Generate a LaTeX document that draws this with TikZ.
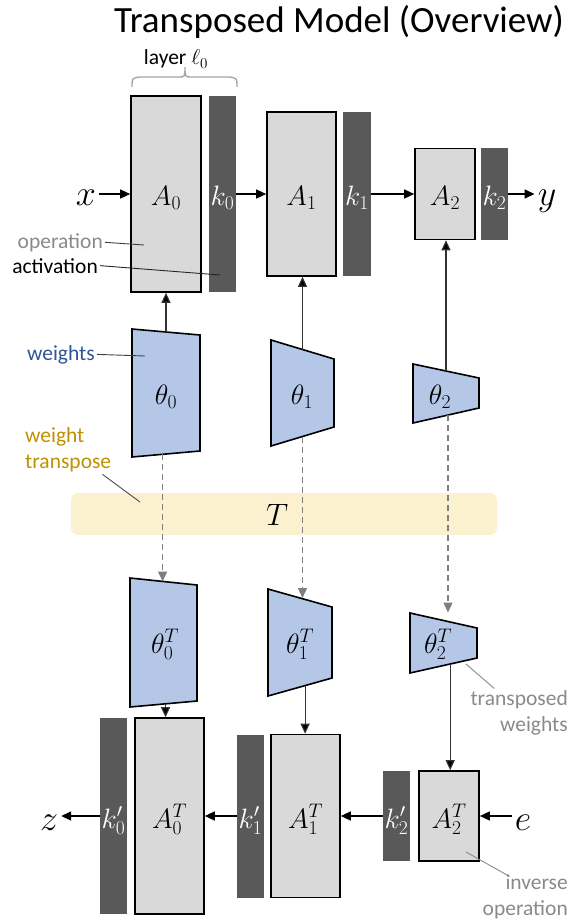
\RequirePackage{fix-cm}
\documentclass[tikz,border=0pt]{standalone}
\usepackage[no-math]{fontspec}
\setmainfont{Carlito}
\usetikzlibrary{arrows.meta,calc}

\definecolor{opfill}{HTML}{D9D9D9}
\definecolor{actfill}{HTML}{595959}
\definecolor{wfill}{HTML}{B4C7E7}
\definecolor{tfill}{HTML}{FCF1CF}
\definecolor{wblue}{HTML}{2F5597}
\definecolor{tgold}{HTML}{BF9000}
\definecolor{notegray}{HTML}{8A8A8A}
\definecolor{dashgray}{HTML}{7F7F7F}
\definecolor{bracegray}{HTML}{A6A6A6}

\newcommand\sizept[1]{\fontsize{#1}{#1}\selectfont}

\tikzset{
  opbox/.style={draw=black, fill=opfill, line width=1.6pt, inner sep=0pt,
    text height=22pt, text depth=0pt, font=\sizept{28}},
  actbox/.style={fill=actfill, inner sep=0pt, text height=22pt, text depth=0pt,
    text=white, font=\sizept{28}},
  wshape/.style={draw=black, fill=wfill, line width=1.6pt, line join=miter},
  wlab/.style={inner sep=0pt, anchor=base, font=\sizept{28}},
  io/.style={inner sep=3pt, anchor=base, font=\sizept{36}},
  arr/.style={line width=1.4pt, -{Triangle[length=10pt,width=9pt]}},
  varr/.style={line width=1.1pt, draw=black!80, -{Triangle[length=10pt,width=9pt,fill=black]}},
  darr/.style={line width=1.4pt, draw=dashgray, dash pattern=on 6pt off 4pt,
    -{Triangle[length=10pt,width=9pt]}},
  note/.style={inner sep=2pt, font=\fontsize{21.5}{26}\selectfont},
  leader/.style={line width=0.9pt},
}

\begin{document}
\begin{tikzpicture}[x=1pt,y=-1pt]
\useasboundingbox (0,0) rectangle (572,920);

% title and layer brace
\node[inner sep=0pt, anchor=base, font=\sizept{37}] (title) at (339,33) {Transposed Model (Overview)};
\node[note, anchor=base] (layer) at (176,65) {layer $\ell_0$};
\draw[bracegray, line width=1.4pt]
  (132,87) .. controls (132,78) .. (140,77) -- (178,77)
  .. controls (185,77) .. (185,67) .. controls (185,77) .. (192,77)
  -- (229,77) .. controls (237,78) .. (237,87);

% transpose band
\node[fill=tfill, rounded corners=7pt, minimum width=426pt, minimum height=42pt, inner sep=0pt] (band) at (284,514) {};
\node[wlab, font=\sizept{31}] (Tlab) at (277,525) {$T$};

% forward layers
\node[opbox, minimum width=70pt, minimum height=196pt] (A0) at (166,194) {$A_0$};
\node[actbox, minimum width=27pt, minimum height=196pt] (k0) at (222.5,194) {$k_0$};
\node[opbox, minimum width=69pt, minimum height=164pt] (A1) at (301.5,194) {$A_1$};
\node[actbox, minimum width=28pt, minimum height=164pt] (k1) at (357,194) {$k_1$};
\node[opbox, minimum width=60pt, minimum height=91pt] (A2) at (445,194) {$A_2$};
\node[actbox, minimum width=27pt, minimum height=91pt] (k2) at (494.5,194) {$k_2$};

% transposed layers
\node[actbox, text height=24pt, minimum width=27pt, minimum height=196pt] (k0p) at (113.5,816) {$k'_0$};
\node[opbox, text height=24pt, minimum width=69pt, minimum height=196pt] (A0T) at (169.5,816) {$A_0^T$};
\node[actbox, text height=24pt, minimum width=27pt, minimum height=163pt] (k1p) at (250.5,816) {$k'_1$};
\node[opbox, text height=24pt, minimum width=69pt, minimum height=163pt] (A1T) at (305.5,816) {$A_1^T$};
\node[actbox, text height=24pt, minimum width=27pt, minimum height=90pt] (k2p) at (396.5,816) {$k'_2$};
\node[opbox, text height=24pt, minimum width=60pt, minimum height=90pt] (A2T) at (449,816) {$A_2^T$};

% weights
\draw[wshape] (132,329) coordinate (t0a) -- (200,335) coordinate (t0b)
  -- (200,451) coordinate (t0c) -- (132,457) coordinate (t0d) -- cycle;
\draw[wshape] (271,340) coordinate (t1a) -- (334,359) coordinate (t1b)
  -- (334,427) coordinate (t1c) -- (271,446) coordinate (t1d) -- cycle;
\draw[wshape] (413,364) coordinate (t2a) -- (479,378) coordinate (t2b)
  -- (479,408) coordinate (t2c) -- (413,423) coordinate (t2d) -- cycle;
\node[wlab] (th0) at (166,404) {$\theta_0$};
\node[wlab] (th1) at (302,404) {$\theta_1$};
\node[wlab] (th2) at (440,404) {$\theta_2$};

% transposed weights
\draw[wshape] (130,578) coordinate (u0a) -- (197,585) coordinate (u0b)
  -- (197,701) coordinate (u0c) -- (130,707) coordinate (u0d) -- cycle;
\draw[wshape] (268,589) coordinate (u1a) -- (332,607) coordinate (u1b)
  -- (332,678) coordinate (u1c) -- (268,696) coordinate (u1d) -- cycle;
\draw[wshape] (410,613) coordinate (u2a) -- (477,628) coordinate (u2b)
  -- (477,658) coordinate (u2c) -- (410,673) coordinate (u2d) -- cycle;
\node[wlab] (thT0) at (165,653) {$\theta_0^T$};
\node[wlab] (thT1) at (300,653) {$\theta_1^T$};
\node[wlab] (thT2) at (438,653) {$\theta_2^T$};

% attachment points on the weight shapes
\coordinate (t0top) at ($(t0a)!0.5!(t0b)$);
\coordinate (t1top) at ($(t1a)!0.5!(t1b)$);
\coordinate (t2top) at ($(t2a)!0.5!(t2b)$);
\coordinate (t0bot) at ($(t0d)!0.45!(t0c)$);
\coordinate (t1bot) at ($(t1d)!0.5!(t1c)$);
\coordinate (t2bot) at ($(t2d)!0.53!(t2c)$);
\coordinate (u0top) at ($(u0a)!0.5!(u0b)$);
\coordinate (u1top) at ($(u1a)!0.5!(u1b)$);
\coordinate (u2top) at ($(u2a)!0.5!(u2b)$);
\coordinate (u0bot) at ($(u0d)!0.53!(u0c)$);
\coordinate (u1bot) at ($(u1d)!0.58!(u1c)$);
\coordinate (u2bot) at ($(u2d)!0.6!(u2c)$);

% inputs and outputs
\node[io] (x) at (86,205) {$x$};
\node[io] (y) at (547,205) {$y$};
\node[io] (z) at (49,830) {$z$};
\node[io] (e) at (523,830) {$e$};

% forward data flow
\draw[arr] (x.east |- A0.west) -- (A0.west);
\draw[arr] (k0.east) -- (A1.west);
\draw[arr] (k1.east) -- (A2.west);
\draw[arr] (k2.east) -- (y.west |- k2.east);

% backward data flow
\draw[arr] (e.west |- A2T.east) -- (A2T.east);
\draw[arr] (k2p.west) -- (A1T.east);
\draw[arr] (k1p.west) -- (A0T.east);
\draw[arr] (k0p.west) -- (z.east |- k0p.west);

% weights into operations
\draw[varr] (t0top) -- (t0top |- A0.south);
\draw[varr] (t1top) -- (t1top |- A1.south);
\draw[varr] (t2top) -- (t2top |- A2.south);
\draw[varr] (u0bot) -- (u0bot |- A0T.north);
\draw[varr] (u1bot) -- (u1bot |- A1T.north);
\draw[varr] (u2bot) -- (u2bot |- A2T.north);

% transposition
\draw[darr] (t0bot) -- (t0bot |- u0top);
\draw[darr] (t1bot) -- (t1bot |- u1top);
\draw[darr, shorten >=8pt] (t2bot) -- (t2bot |- u2top);

% annotations
\node[note, text=notegray, anchor=base east] (opnote) at (105,248) {operation};
\coordinate (opend) at (144,245);
\draw[leader, black!75] (opnote.east) -- (opend);

\node[note, anchor=base east] (actnote) at (100,273) {activation};
\coordinate (actend) at (220,275);
\draw[leader, black!85] (actnote.east) -- (actend);

\node[note, text=wblue, anchor=base east] (wnote) at (97,360) {weights};
\coordinate (wend) at (145,356);
\draw[leader, black!75] (wnote.east) -- (wend);

\node[note, text=tgold, anchor=north west, align=left] (wtnote) at (23,425.5) {weight\\transpose};
\coordinate (wtend) at (140,502);
\draw[leader, black!70] ($(wtnote.south east)+(-11,0)$) -- (wtend);

\node[note, text=notegray, anchor=north east, align=right] (twnote) at (570,688.5) {transposed\\weights};
\coordinate (twstart) at (466,664);
\draw[leader, notegray] (twstart) -- ($(twnote.north west)+(26,0)$);

\node[note, text=notegray, anchor=north east, align=right] (invnote) at (570,872.4) {inverse\\operation};
\coordinate (invstart) at (466,852);
\draw[leader, notegray] (invstart) -- ($(invnote.north west)+(29,4)$);

\end{tikzpicture}
\end{document}
